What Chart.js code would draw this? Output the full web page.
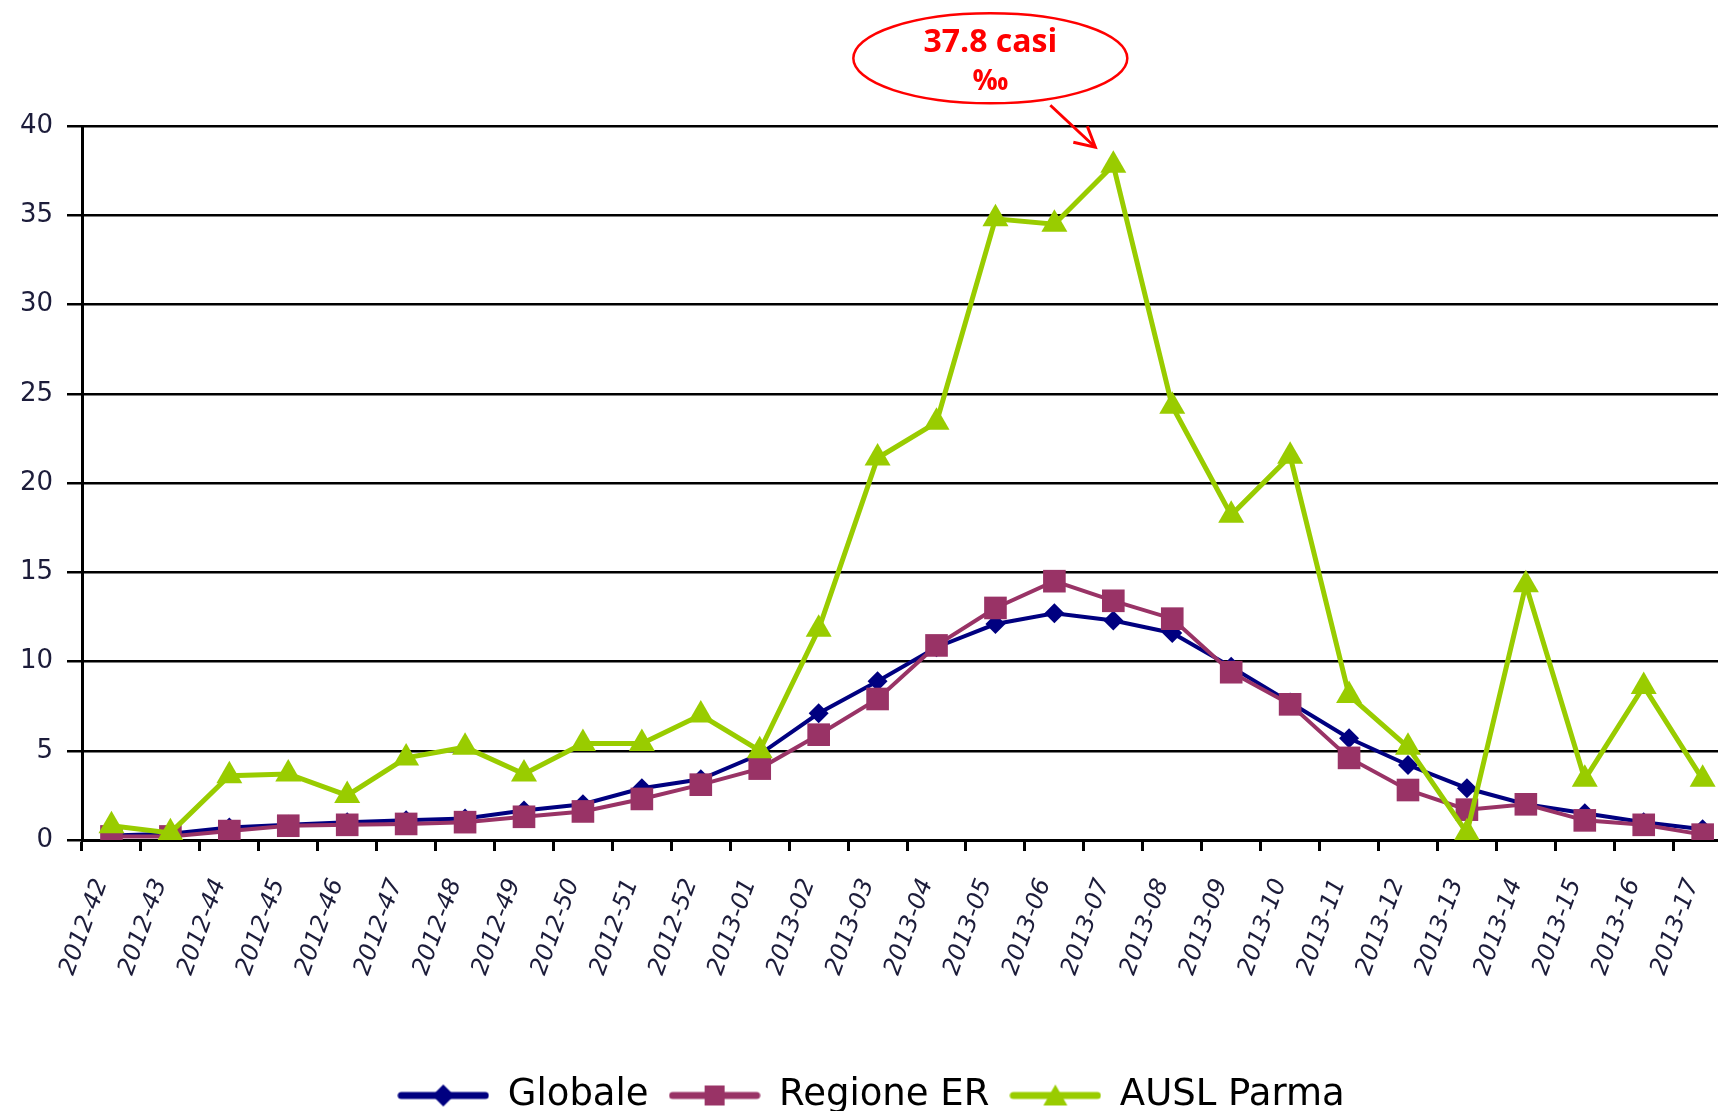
<!DOCTYPE html>
<html>
<head>
<meta charset="utf-8">
<script src="https://cdn.jsdelivr.net/npm/chart.js@4.4.1/dist/chart.umd.min.js"></script>
<style>
  html, body { margin: 0; padding: 0; background: #fff; overflow: hidden; }
  #contenitore { width: 1754px; height: 1124px; position: relative; }
</style>
</head>
<body>
<div id="contenitore"><canvas id="grafico"></canvas></div>
<script>
// settimane di sorveglianza
const settimane = [
  '2012-42', '2012-43', '2012-44', '2012-45', '2012-46', '2012-47', '2012-48',
  '2012-49', '2012-50', '2012-51', '2012-52', '2013-01', '2013-02', '2013-03',
  '2013-04', '2013-05', '2013-06', '2013-07', '2013-08', '2013-09', '2013-10',
  '2013-11', '2013-12', '2013-13', '2013-14', '2013-15', '2013-16', '2013-17'
];

// casi per mille assistiti
const globale = [0.25, 0.35, 0.7, 0.85, 1.0, 1.1, 1.2, 1.65, 2.0, 2.9, 3.4, 4.8, 7.1, 8.9,
  10.8, 12.1, 12.7, 12.3, 11.6, 9.7, 7.7, 5.7, 4.2, 2.9, 2.0, 1.5, 1.0, 0.6];
const regioneER = [0.2, 0.2, 0.5, 0.8, 0.85, 0.9, 1.0, 1.3, 1.6, 2.3, 3.1, 4.0, 5.9, 7.9,
  10.9, 13.0, 14.5, 13.4, 12.4, 9.4, 7.6, 4.6, 2.8, 1.7, 2.0, 1.1, 0.85, 0.3];
const auslParma = [0.8, 0.4, 3.6, 3.7, 2.5, 4.6, 5.2, 3.7, 5.4, 5.4, 7.0, 5.0, 11.8, 21.4,
  23.4, 34.8, 34.5, 37.8, 24.3, 18.2, 21.5, 8.1, 5.2, 0.4, 14.3, 3.4, 8.6, 3.4];

const tickY = [0, 5, 10, 15, 20, 25, 30, 35, 40];

const colori = ['#000080', '#993366', '#99CC00'];
const forme = ['rectRot', 'rect', 'triangle'];

// campione della legenda: linea con il simbolo al centro
function campione(colore, forma) {
  const c = document.createElement('canvas');
  c.width = 92; c.height = 28;
  const g = c.getContext('2d');
  g.strokeStyle = colore;
  g.fillStyle = colore;
  g.lineWidth = 7;
  g.lineCap = 'round';
  g.beginPath(); g.moveTo(4, 14); g.lineTo(88, 14); g.stroke();
  g.beginPath();
  if (forma === 'rectRot') {
    g.moveTo(46, 3); g.lineTo(57, 14); g.lineTo(46, 25); g.lineTo(35, 14);
  } else if (forma === 'rect') {
    g.rect(36, 4, 20, 20);
  } else {
    g.moveTo(46, 3); g.lineTo(58, 24); g.lineTo(34, 24);
  }
  g.closePath(); g.fill();
  return c;
}
const campioni = colori.map((c, i) => campione(c, forme[i]));

// fumetto con il valore massimo di Parma
const notaPicco = {
  id: 'notaPicco',
  afterDatasetsDraw(chart) {
    const i = auslParma.indexOf(Math.max(...auslParma));
    const p = chart.getDatasetMeta(2).data[i];
    const ctx = chart.ctx;
    ctx.save();
    ctx.strokeStyle = '#ff0000';
    ctx.fillStyle = '#ff0000';
    ctx.lineWidth = 2.5;
    ctx.beginPath();
    ctx.ellipse(p.x - 123, p.y - 107, 137, 45, 0, 0, Math.PI * 2);
    ctx.stroke();
    ctx.textAlign = 'center';
    ctx.textBaseline = 'alphabetic';
    ctx.font = 'bold 32px "Open Sans"';
    ctx.fillText(auslParma[i] + ' casi', p.x - 123, p.y - 113);
    ctx.font = 'bold 28px "Open Sans"';
    ctx.fillText('‰', p.x - 123, p.y - 75);
    // freccia
    ctx.lineWidth = 3;
    ctx.beginPath();
    ctx.moveTo(p.x - 63, p.y - 60);
    ctx.lineTo(p.x - 18, p.y - 18);
    ctx.stroke();
    ctx.beginPath();
    ctx.moveTo(p.x - 40, p.y - 23);
    ctx.lineTo(p.x - 18, p.y - 18);
    ctx.lineTo(p.x - 26, p.y - 39);
    ctx.stroke();
    ctx.restore();
  }
};

const ctx = document.getElementById('grafico').getContext('2d');
new Chart(ctx, {
  type: 'line',
  data: {
    labels: settimane,
    datasets: [
      {
        label: 'Globale',
        data: globale,
        borderColor: colori[0],
        backgroundColor: colori[0],
        borderWidth: 4,
        pointStyle: forme[0],
        pointRadius: 10,
        pointBorderWidth: 0,
        order: 3
      },
      {
        label: 'Regione ER',
        data: regioneER,
        borderColor: colori[1],
        backgroundColor: colori[1],
        borderWidth: 4,
        pointStyle: forme[1],
        pointRadius: 16,
        pointBorderWidth: 0,
        order: 2
      },
      {
        label: 'AUSL Parma',
        data: auslParma,
        borderColor: colori[2],
        backgroundColor: colori[2],
        borderWidth: 5,
        pointStyle: forme[2],
        pointRadius: 15,
        pointBorderWidth: 0,
        order: 1
      }
    ]
  },
  options: {
    responsive: true,
    maintainAspectRatio: false,
    animation: false,
    layout: { padding: { top: 126, right: 12, left: 0, bottom: 0 } },
    plugins: {
      tooltip: { enabled: false },
      legend: {
        position: 'bottom',
        labels: {
          usePointStyle: true,
          pointStyleWidth: 92,
          padding: 20,
          color: '#000',
          font: { family: 'DejaVu Sans', size: 37 },
          sort: (a, b) => a.datasetIndex - b.datasetIndex,
          generateLabels(chart) {
            const base = Chart.defaults.plugins.legend.labels.generateLabels(chart);
            return base.map(l => ({ ...l, pointStyle: campioni[l.datasetIndex] }));
          }
        }
      }
    },
    scales: {
      x: {
        offset: true,
        grid: { offset: true, drawOnChartArea: false, drawTicks: true, tickLength: 11, color: '#000', lineWidth: 3 },
        border: { display: true, color: '#000', width: 3 },
        ticks: {
          autoSkip: false,
          minRotation: 70,
          maxRotation: 70,
          padding: 24,
          labelOffset: -10,
          color: '#1c1c3a',
          font: { family: 'DejaVu Sans', size: 24, style: 'italic' }
        },
        afterFit(s) { s.height = 217; }
      },
      y: {
        min: 0,
        max: 40,
        afterBuildTicks(s) { s.ticks = tickY.map(v => ({ value: v })); },
        ticks: { padding: 14, color: '#1c1c3a', font: { family: 'DejaVu Sans', size: 26 } },
        grid: { color: '#000', lineWidth: 2.5, tickLength: 15 },
        border: { display: true, color: '#000', width: 3 },
        afterFit(s) { s.width = 82; }
      }
    }
  },
  plugins: [notaPicco]
});
</script>
</body>
</html>
